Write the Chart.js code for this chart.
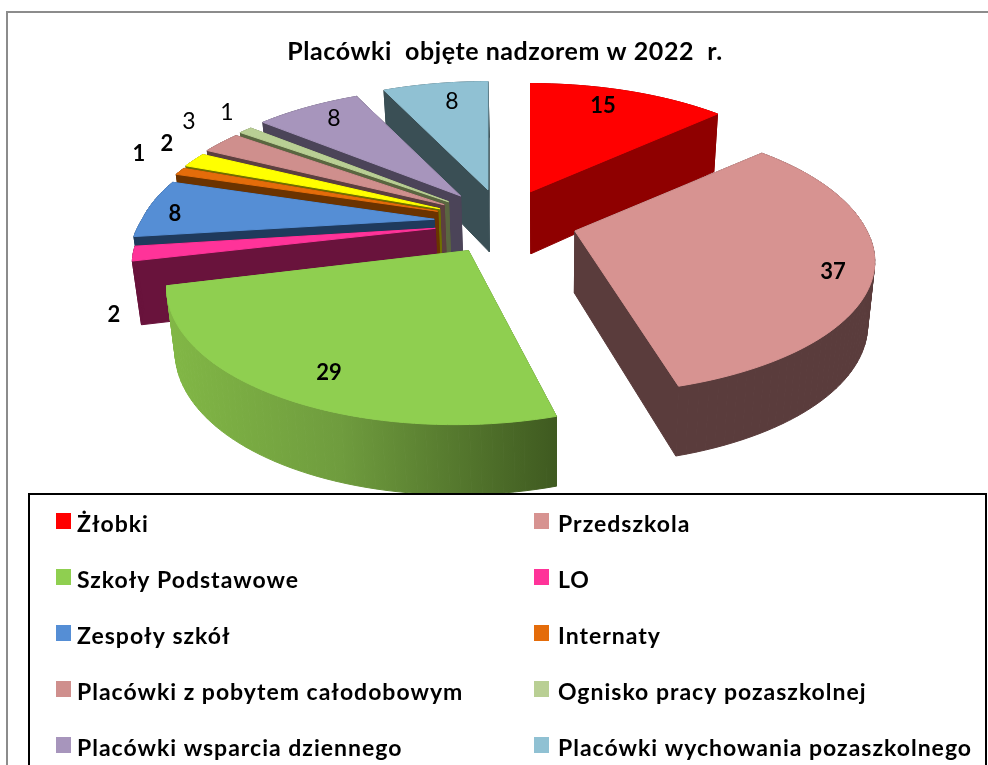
<!DOCTYPE html>
<html><head><meta charset="utf-8">
<style>html,body{margin:0;padding:0;background:#fff;overflow:hidden}canvas{display:block}</style>
<script src="https://cdn.jsdelivr.net/npm/chart.js@4"></script>
</head><body><canvas id="c" width="988" height="765"></canvas>
<script>
const titleText = 'Placówki  objęte nadzorem w 2022  r.';
const categories = ['Żłobki','Przedszkola','Szkoły Podstawowe','LO','Zespoły szkół','Internaty','Inne','Placówki z pobytem całodobowym','Ognisko pracy pozaszkolnej','Placówki wsparcia dziennego','Placówki wychowania pozaszkolnego'];
const values = [15,37,29,2,8,1,2,3,1,8,8];
const topColors = ['#ff0000','#d79391','#8fcf50','#ff3399','#558ed5','#e46c0a','#ffff00','#cf8f8d','#b9cf94','#a795bc','#90c1d3'];
const wallColors = ['#8f0000','#5a3c3c','#6f9c3e','#69133c','#1f3a5c','#6b3300','#6f6f00','#5c3f3f','#5a6640','#4b4458','#3a4f55'];
const boldLabel = [1,1,1,1,1,1,1,0,0,0,0];
const labelAnchors = [[603,106],[833,272],[329,373],[114,315],[175,214],[139,154],[167,144],[189,122],[227,113],[334,119],[452,102]];
const legendOrder = [0,1,2,3,4,5,7,8,9,10];
const drawOrder = [10,9,8,7,6,5,4,3,0,1,2];

const cx=503, cy=222, R=292, Ry=132, persp=0.22, expY=0.44, expLeft=0.92, baseDepth=62, vpX=550, lean=0.022;
function rimPoint(tip,a){
  const u=Math.sin(a), v=-Math.cos(a), w=1-persp*v, near=Math.max(0,1/w-1);
  return {x:tip.x+R*u/w+(tip.x-555)*0.55*near, y:tip.y+Ry*v/w+(tip.y-242)*2*near, w};
}
function lower(p){ return {x:p.x-(p.x-vpX)*lean, y:p.y+baseDepth/Math.sqrt(p.w)}; }

const pie3d = {
  id:'pie3d',
  beforeDraw(chart){
    const c=chart.ctx;
    c.save();
    c.fillStyle='#fff'; c.fillRect(0,0,988,765);
    c.strokeStyle='#8c8c8c'; c.lineWidth=2;
    c.beginPath(); c.moveTo(7,770); c.lineTo(7,12); c.lineTo(990,12); c.stroke();
    c.restore();
    c.letterSpacing='0.55px';
  },
  beforeDatasetsDraw(chart){ chart.ctx.letterSpacing='0px'; },
  beforeDatasetDraw(chart){
    const c=chart.ctx, arcs=chart.getDatasetMeta(0).data;
    const shapes=arcs.map(arc=>{
      const a0=arc.startAngle+Math.PI/2, a1=arc.endAngle+Math.PI/2, m=(a0+a1)/2, e=arc.options.offset;
      const sx=Math.sin(m);
      const tip={x:cx+e*(sx<0?sx*expLeft:Math.pow(sx,1.1)), y:cy-e*expY*Math.cos(m), w:1};
      const pts=[]; const n=Math.max(4,Math.ceil((a1-a0)/0.03));
      for(let i=0;i<=n;i++) pts.push(rimPoint(tip,a0+(a1-a0)*i/n));
      return {tip,pts};
    });
    c.save(); c.lineJoin='round';
    drawOrder.forEach(i=>{
      const {tip,pts}=shapes[i]; const quads=[];
      const quad=(p,q)=>quads.push([p,q,lower(q),lower(p)]);
      quad(tip,pts[0]); quad(tip,pts[pts.length-1]);
      for(let k=0;k<pts.length-1;k++) quad(pts[k],pts[k+1]);
      quads.sort((A,B)=>(A[0].y+A[1].y)-(B[0].y+B[1].y));
      let wall=wallColors[i];
      if(i===2){ const g=c.createLinearGradient(165,0,556,0); g.addColorStop(0,'#82b846'); g.addColorStop(.45,'#6f9c3e'); g.addColorStop(1,'#3f5a20'); wall=g; }
      c.fillStyle=wall; c.strokeStyle=wall; c.lineWidth=1;
      quads.forEach(q=>{ c.beginPath(); q.forEach((p,j)=>j?c.lineTo(p.x,p.y):c.moveTo(p.x,p.y)); c.closePath(); c.fill(); c.stroke(); });
      c.fillStyle=c.strokeStyle=arcs[i].options.backgroundColor;
      c.beginPath(); c.moveTo(tip.x,tip.y); pts.forEach(p=>c.lineTo(p.x,p.y)); c.closePath(); c.fill(); c.stroke();
    });
    c.restore();
    return false;
  },
  afterDatasetsDraw(chart){
    const c=chart.ctx; c.save();
    c.textAlign='center'; c.textBaseline='middle'; c.fillStyle='#000';
    values.forEach((v,i)=>{ c.font=boldLabel[i]?'bold 22px Lato':'23px Lato'; c.fillText(String(v),labelAnchors[i][0],labelAnchors[i][1]); });
    // legend
    c.fillStyle='#fff'; c.fillRect(28,494,958,271);
    c.strokeStyle='#000'; c.lineWidth=2;
    c.beginPath(); c.moveTo(29,770); c.lineTo(29,494); c.lineTo(986,494); c.lineTo(986,770); c.stroke();
    c.textAlign='left'; c.textBaseline='alphabetic'; c.font='bold 23px Lato'; c.letterSpacing='1px';
    legendOrder.forEach((idx,k)=>{
      const col=k%2,row=(k-col)/2, mx=col?534:56, tx=col?558:77, y=521+row*56;
      c.fillStyle=topColors[idx]; c.fillRect(mx,y-8,15,16);
      c.fillStyle='#000'; c.fillText(categories[idx],tx,y+11);
    });
    c.letterSpacing='0px';
    c.restore();
  }
};

new Chart(document.getElementById('c'),{
  type:'pie',
  data:{labels:categories,datasets:[{data:values,backgroundColor:topColors,offset:75,borderWidth:0}]},
  options:{
    responsive:false,animation:false,
    layout:{padding:{left:22}},
    plugins:{
      legend:{display:false},tooltip:{enabled:false},
      title:{display:true,text:titleText,color:'#000',font:{family:'Lato',size:25,weight:'bold'},padding:{top:37,bottom:10}}
    }
  },
  plugins:[pie3d]
});
</script></body></html>
